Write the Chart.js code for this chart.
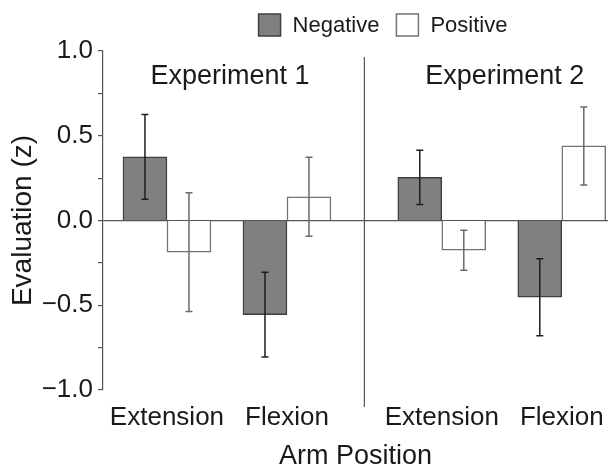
<!DOCTYPE html>
<html>
<head>
<meta charset="utf-8">
<title>Evaluation by arm position</title>
<script src="https://cdn.jsdelivr.net/npm/chart.js@4.4.1/dist/chart.umd.min.js"></script>
<style>
  html, body { margin: 0; padding: 0; background: #fff; }
  #wrap { width: 610px; height: 474px; }
</style>
</head>
<body>
<div id="wrap"><canvas id="chart" width="610" height="474"></canvas></div>
<script>
// Data
const experiments = ['Experiment 1', 'Experiment 2'];
const armPositions = ['Extension', 'Flexion', 'Extension', 'Flexion'];
const experimentOf = [0, 0, 1, 1];

const negativeMeans = [0.375, -0.555, 0.255, -0.453];
const negativeErrors = [0.25, 0.25, 0.16, 0.227];
const positiveMeans = [-0.187, 0.14, -0.175, 0.44];
const positiveErrors = [0.35, 0.233, 0.118, 0.23];

const yTicks = { min: -1, max: 1, step: 0.25 };

// Layout: extra space between the two experiments (in category units)
const groupGap = 0.29;
const xPos = armPositions.map((c, i) => i + 1 + experimentOf[i] * groupGap);

const FONT = "'Liberation Sans', Arial, Helvetica, sans-serif";
const INK = '#1a1a1a';

function toPoints(values) {
    return values.map((v, i) => ({ x: xPos[i], y: v }));
}

function fmtTick(v) {
    if (Math.abs(v * 2 - Math.round(v * 2)) > 1e-9) return '';
    return (v < 0 ? '\u2212' : '') + Math.abs(v).toFixed(1);
}

// Legend, divider, experiment labels and error bars
const decorPlugin = {
    id: 'decor',
    beforeDatasetsDraw(chart) {
        const { ctx, chartArea, scales } = chart;
        const x = (scales.x.getPixelForValue(xPos[1]) + scales.x.getPixelForValue(xPos[2])) / 2;
        ctx.save();
        ctx.strokeStyle = '#555';
        ctx.lineWidth = 1.2;
        ctx.beginPath();
        ctx.moveTo(x, chartArea.top + 6);
        ctx.lineTo(x, chartArea.bottom + 17);
        ctx.stroke();
        ctx.restore();
    },
    afterDatasetsDraw(chart) {
        const { ctx, scales } = chart;
        const errs = [negativeErrors, positiveErrors];
        chart.data.datasets.forEach((ds, di) => {
            const meta = chart.getDatasetMeta(di);
            ctx.save();
            ctx.strokeStyle = ds.errorColor;
            ctx.lineWidth = 1.5;
            meta.data.forEach((bar, i) => {
                const v = ds.data[i].y;
                const e = errs[di][i];
                const yTop = scales.y.getPixelForValue(v + e);
                const yBot = scales.y.getPixelForValue(v - e);
                const cap = 3.5;
                ctx.beginPath();
                ctx.moveTo(bar.x, yTop);
                ctx.lineTo(bar.x, yBot);
                ctx.moveTo(bar.x - cap, yTop);
                ctx.lineTo(bar.x + cap, yTop);
                ctx.moveTo(bar.x - cap, yBot);
                ctx.lineTo(bar.x + cap, yBot);
                ctx.stroke();
            });
            ctx.restore();
        });
    },
    afterDraw(chart) {
        const { ctx, scales } = chart;
        ctx.save();

        // experiment labels
        ctx.font = '27px ' + FONT;
        ctx.fillStyle = INK;
        ctx.textAlign = 'center';
        ctx.textBaseline = 'middle';
        experiments.forEach((name, g) => {
            const idx = xPos.filter((p, i) => experimentOf[i] === g);
            const mid = (idx[0] + idx[idx.length - 1]) / 2;
            ctx.fillText(name, scales.x.getPixelForValue(mid) + 3, 77);
        });

        // legend
        const box = 22, gap = 12, itemGap = 17;
        const cx = 383, cy = 25;
        ctx.font = '22px ' + FONT;
        const items = chart.data.datasets.map(ds => ({
            ds, w: ctx.measureText(ds.label).width
        }));
        let total = items.reduce((s, it) => s + box + gap + it.w, 0) + itemGap * (items.length - 1);
        let x = cx - total / 2;
        ctx.textAlign = 'left';
        items.forEach(it => {
            ctx.fillStyle = it.ds.backgroundColor;
            ctx.fillRect(x, cy - box / 2, box, box);
            ctx.strokeStyle = it.ds.borderColor;
            ctx.lineWidth = 1.5;
            ctx.strokeRect(x, cy - box / 2, box, box);
            x += box + gap;
            ctx.fillStyle = INK;
            ctx.fillText(it.ds.label, x, cy + 1);
            x += it.w + itemGap;
        });
        ctx.restore();
    }
};

const ctx = document.getElementById('chart').getContext('2d');
const chart = new Chart(ctx, {
    type: 'bar',
    data: {
        datasets: [{
            label: 'Negative',
            data: toPoints(negativeMeans),
            backgroundColor: '#808080',
            borderColor: '#404040',
            errorColor: '#1e1e1e',
            borderWidth: 1.5
        }, {
            label: 'Positive',
            data: toPoints(positiveMeans),
            backgroundColor: '#ffffff',
            borderColor: '#737373',
            errorColor: '#6a6a6a',
            borderWidth: 1.5
        }]
    },
    options: {
        responsive: false,
        animation: false,
        barThickness: 44,
        layout: { padding: { top: 51, right: 2, left: 0, bottom: 0 } },
        plugins: {
            legend: { display: false },
            tooltip: { enabled: false }
        },
        scales: {
            x: {
                type: 'linear',
                offset: false,
                min: 0.467,
                max: 4.675,
                grid: { display: false, drawTicks: false },
                border: { display: false },
                afterBuildTicks: scale => {
                    scale.ticks = xPos.map(v => ({ value: v }));
                },
                afterFit: scale => {
                    scale.height = 84;
                    scale.paddingLeft = 0;
                    scale.paddingRight = 0;
                },
                ticks: {
                    autoSkip: false,
                    maxRotation: 0,
                    padding: 12,
                    color: INK,
                    font: { family: FONT, size: 26, lineHeight: 1.2 },
                    callback: (value, index) => armPositions[index]
                },
                title: {
                    display: true,
                    text: 'Arm Position',
                    color: INK,
                    font: { family: FONT, size: 27, lineHeight: 1.2 },
                    padding: { top: 4, bottom: 1 }
                }
            },
            y: {
                min: yTicks.min,
                max: yTicks.max,
                afterFit: scale => { scale.width = 103; },
                ticks: {
                    stepSize: yTicks.step,
                    padding: 5,
                    color: INK,
                    font: { family: FONT, size: 26, lineHeight: 1.2 },
                    callback: v => fmtTick(v)
                },
                grid: {
                    drawTicks: true,
                    tickLength: 5,
                    tickColor: '#555',
                    lineWidth: 1.2,
                    color: c => (c.tick && c.tick.value === 0) ? '#555' : 'rgba(0,0,0,0)'
                },
                border: { display: true, color: '#555', width: 1.2 },
                title: {
                    display: true,
                    text: 'Evaluation (z)',
                    color: INK,
                    font: { family: FONT, size: 28, lineHeight: 1.2 },
                    padding: { top: 6, bottom: 0 }
                }
            }
        }
    },
    plugins: [decorPlugin]
});
</script>
</body>
</html>
